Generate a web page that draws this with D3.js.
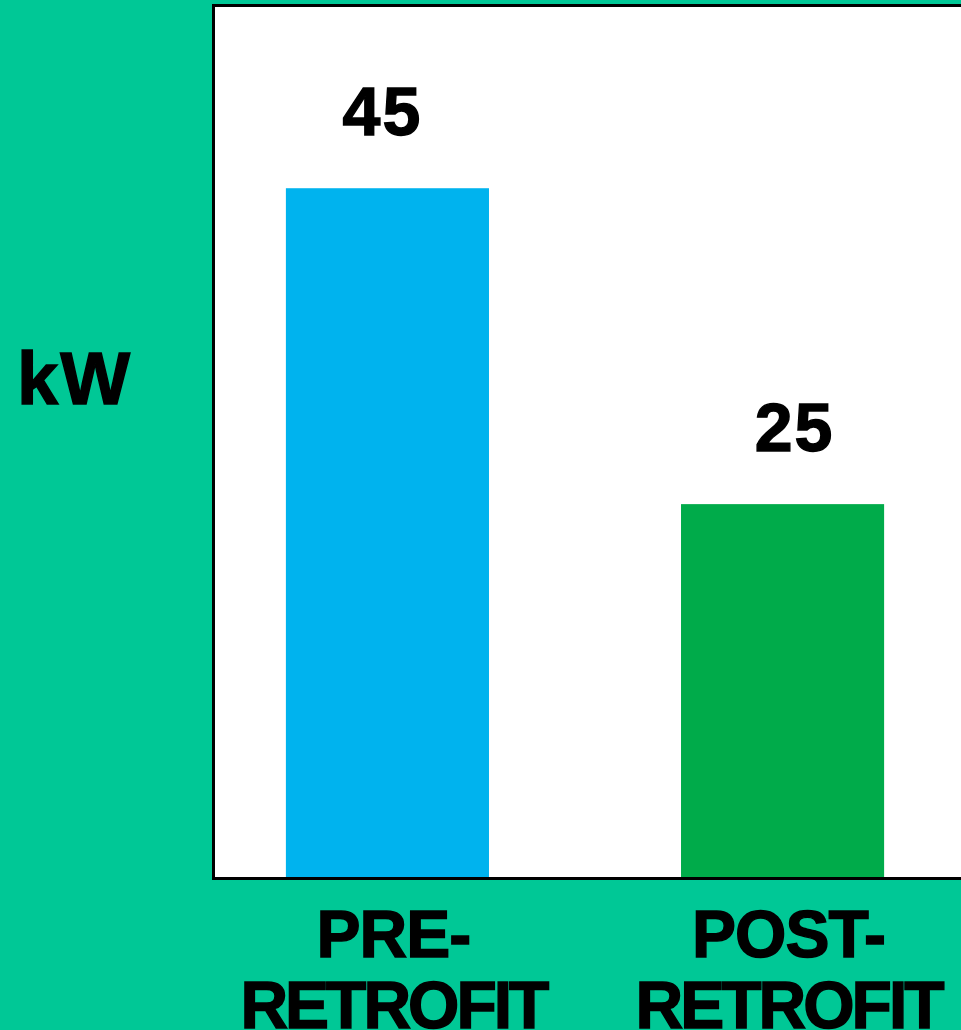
<!DOCTYPE html>
<html lang="en">
<head>
    <meta charset="UTF-8">
    <title>kW pre/post retrofit</title>
    <script src="https://d3js.org/d3.v7.min.js"></script>
    <style>
        body { margin: 0; background: #00C896; }
        svg { display: block; }
        text { font-family: "Liberation Sans", Arial, sans-serif; font-weight: bold; fill: #000; stroke: #000; stroke-width: 1.4px; }
    </style>
</head>
<body>
    <svg id="chart"></svg>
    <script>
        // data
        var categories = ["PRE-RETROFIT", "POST-RETROFIT"]
        var labelLines = [["PRE-", "RETROFIT"], ["POST-", "RETROFIT"]]
        var values = [45, 25]
        var barColors = ["#00B3EE", "#00AB4A"]
        var unitLabel = "kW"

        var W = 961, H = 1030
        var plot = { left: 212, top: 5, bottom: 878 }

        var svg = d3.select("#chart")
            .attr("width", W)
            .attr("height", H)

        svg.append("rect")
            .attr("width", W).attr("height", H)
            .attr("fill", "#00C896")

        // x: band scale across the plot
        var x = d3.scaleBand()
            .domain(categories)
            .range([212, 958])
            .paddingInner(0.486)
            .paddingOuter(0.187)

        // y: bars drawn to the picture's proportions
        var y = d3.scaleLinear()
            .domain([1.33, 56.6])
            .range([plot.bottom, plot.top])

        // white plot area (runs off the right edge)
        svg.append("rect")
            .attr("x", plot.left)
            .attr("y", plot.top)
            .attr("width", W + 20 - plot.left)
            .attr("height", plot.bottom - plot.top)
            .attr("fill", "#fff")

        // bars
        svg.selectAll(".bar")
            .data(values)
            .enter()
            .append("rect")
            .attr("class", "bar")
            .attr("x", function (d, i) { return x(categories[i]) })
            .attr("y", function (d) { return y(d) })
            .attr("width", x.bandwidth())
            .attr("height", function (d) { return plot.bottom - y(d) })
            .attr("fill", function (d, i) { return barColors[i] })

        // frame
        svg.append("rect")
            .attr("x", plot.left + 1.5)
            .attr("y", plot.top + 0.5)
            .attr("width", W + 20 - plot.left)
            .attr("height", plot.bottom - plot.top)
            .attr("fill", "none")
            .attr("stroke", "#000")
            .attr("stroke-width", 3)

        // value labels
        svg.selectAll(".val")
            .data(values)
            .enter()
            .append("text")
            .attr("class", "val")
            .attr("x", function (d, i) { return x(categories[i]) + x.bandwidth() / 2 + (i === 0 ? -5 : 12) })
            .attr("y", function (d) { return y(d) - 53 })
            .attr("text-anchor", "middle")
            .style("font-size", "68px")
            .style("letter-spacing", "2px")
            .text(function (d) { return d })

        // category labels, two lines each
        var cat = svg.selectAll(".cat")
            .data(categories)
            .enter()
            .append("text")
            .attr("class", "cat")
            .attr("text-anchor", "middle")
            .style("font-size", "66px")

        cat.selectAll("tspan")
            .data(function (d, i) { return labelLines[i].map(function (t, j) { return { t: t, c: d, j: j } }) })
            .enter()
            .append("tspan")
            .attr("x", function (d) { return x(d.c) + x.bandwidth() / 2 + 6 })
            .attr("y", function (d) { return 957 + d.j * 71 })
            .style("letter-spacing", function (d) { return d.j === 0 ? "-1px" : "-3px" })
            .text(function (d) { return d.t })

        // unit label
        svg.append("text")
            .attr("x", 17)
            .attr("y", 404)
            .style("font-size", "74px")
            .style("letter-spacing", "2px")
            .text(unitLabel)
    </script>
</body>
</html>
